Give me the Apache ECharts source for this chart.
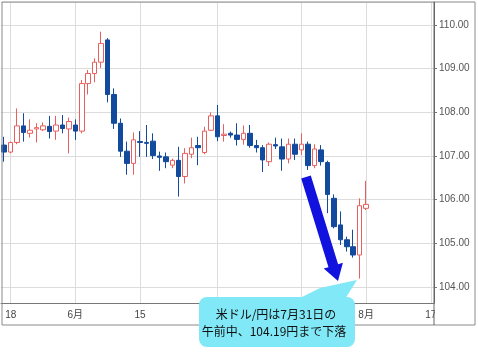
<!DOCTYPE html>
<html>
<head>
<meta charset="utf-8">
<script src="https://cdn.jsdelivr.net/npm/echarts@6/dist/echarts.min.js"></script>
<style>
  html, body { margin: 0; padding: 0; background: #fff; }
  #chart { width: 478px; height: 352px; }
</style>
</head>
<body>
<div id="chart"></div>
<script>
// trading days, 2020/5/15 - 8/3
const dates = [
  '5/15', '5/18', '5/19', '5/20', '5/21', '5/22', '5/25', '5/26', '5/27', '5/28', '5/29',
  '6/1', '6/2', '6/3', '6/4', '6/5', '6/8', '6/9', '6/10', '6/11', '6/12',
  '6/15', '6/16', '6/17', '6/18', '6/19', '6/22', '6/23', '6/24', '6/25', '6/26', '6/29', '6/30',
  '7/1', '7/2', '7/3', '7/6', '7/7', '7/8', '7/9', '7/10', '7/13', '7/14', '7/15', '7/16', '7/17',
  '7/20', '7/21', '7/22', '7/23', '7/24', '7/27', '7/28', '7/29', '7/30', '7/31',
  '8/3'
];
// empty days to the right edge
const futureDates = ['8/4', '8/5', '8/6', '8/7', '8/10', '8/11', '8/12', '8/13', '8/14', '8/17'];

const opens = [
  107.25, 107.09, 107.31, 107.69, 107.52, 107.62, 107.60, 107.68, 107.57, 107.71, 107.62,
  107.71, 107.57, 108.66, 108.89, 109.15, 109.66, 108.41, 107.75, 107.11, 106.83,
  107.33, 107.31, 107.34, 107.00, 106.98, 106.79, 106.90, 106.53, 107.04, 107.24, 107.08, 107.59,
  107.92, 107.47, 107.52, 107.48, 107.38, 107.52, 107.24, 107.19, 106.87, 107.26, 107.21, 106.93, 107.27,
  107.14, 107.27, 106.78, 107.14, 106.85, 106.03, 105.42, 105.08, 104.92, 104.73,
  105.80
];
const closes = [
  107.09, 107.31, 107.69, 107.54, 107.59, 107.65, 107.69, 107.56, 107.71, 107.63, 107.79,
  107.57, 108.66, 108.89, 109.15, 109.58, 108.41, 107.75, 107.11, 106.83, 107.37,
  107.31, 107.29, 107.01, 106.97, 106.87, 106.90, 106.53, 107.06, 107.19, 107.19, 107.57, 107.92,
  107.44, 107.50, 107.48, 107.38, 107.52, 107.24, 107.19, 106.91, 107.27, 107.23, 106.93, 107.27, 107.04,
  107.27, 106.78, 107.16, 106.87, 106.12, 105.38, 105.08, 104.92, 104.73, 105.86,
  105.89
];
const lows = [
  106.87, 107.06, 107.27, 107.33, 107.42, 107.31, 107.57, 107.40, 107.37, 107.52, 107.06,
  107.37, 107.52, 108.41, 108.69, 109.02, 108.23, 107.62, 106.98, 106.57, 106.57,
  106.98, 106.98, 106.93, 106.66, 106.72, 106.72, 106.07, 106.37, 106.95, 106.79, 107.04, 107.57,
  107.34, 107.33, 107.42, 107.24, 107.26, 107.19, 107.08, 106.63, 106.77, 107.16, 106.66, 106.83, 106.91,
  107.02, 106.68, 106.72, 106.78, 105.69, 105.34, 104.96, 104.81, 104.67, 104.19,
  105.76
];
const highs = [
  107.44, 107.33, 108.09, 107.98, 107.84, 107.75, 107.77, 107.92, 107.92, 107.94, 107.88,
  107.84, 108.74, 108.97, 109.24, 109.85, 109.70, 108.55, 107.86, 107.33, 107.54,
  107.57, 107.71, 107.52, 107.10, 107.08, 106.94, 107.21, 107.18, 107.42, 107.44, 107.67, 108.00,
  108.17, 107.73, 107.56, 107.75, 107.70, 107.71, 107.37, 107.25, 107.31, 107.42, 107.40, 107.40, 107.40,
  107.52, 107.33, 107.27, 107.25, 106.89, 106.12, 105.73, 105.15, 105.31, 106.03,
  106.43
];

const tickDates = ['5/18', '6/1', '6/15', '7/1', '7/20', '8/3', '8/17'];
const tickLabels = ['18', '6月', '15', '7月', '20', '8月', '17'];

const calloutLines = ['米ドル/円は7月31日の', '午前中、104.19円まで下落'];

const candles = dates.map((d, i) => [opens[i], closes[i], lows[i], highs[i]]);
const isTick = (index, value) => tickDates.indexOf(value) >= 0;

const myChart = echarts.init(document.getElementById('chart'));
const option = {
  animation: false,
  grid: { left: 1, right: 44, top: 2, bottom: 49 },
  xAxis: {
    type: 'category',
    data: dates.concat(futureDates),
    boundaryGap: true,
    axisLine: { lineStyle: { color: '#777' } },
    axisTick: { interval: isTick, alignWithLabel: true, length: 3, lineStyle: { color: '#999' } },
    axisLabel: {
      interval: isTick,
      formatter: v => tickLabels[tickDates.indexOf(v)],
      color: '#444',
      fontSize: 10,
      margin: 7,
      fontFamily: 'Liberation Sans, Noto Sans CJK JP'
    },
    splitLine: { show: true, interval: isTick, alignWithLabel: true, lineStyle: { color: '#dcdcdc' } }
  },
  yAxis: {
    type: 'value',
    position: 'right',
    min: 103.63,
    max: 110.53,
    splitNumber: 7,
    scale: true,
    axisLine: { show: true, lineStyle: { color: '#666' } },
    axisTick: { show: true, length: 3, lineStyle: { color: '#777' } },
    axisLabel: {
      showMinLabel: false,
      showMaxLabel: false,
      formatter: v => v.toFixed(2),
      color: '#555',
      fontSize: 10,
      margin: 5,
      fontFamily: 'Liberation Sans'
    },
    splitLine: { lineStyle: { color: '#dcdcdc' } }
  },
  series: [{
    type: 'candlestick',
    data: candles,
    barWidth: 5,
    itemStyle: {
      color: '#ffffff',
      borderColor: '#e8605e',
      color0: '#124a9d',
      borderColor0: '#124a9d',
      borderWidth: 1
    }
  }],
  graphic: [
    // hide the part of "17" that runs under the price axis
    { type: 'rect', z: 50, shape: { x: 435, y: 305, width: 12, height: 19 }, style: { fill: '#fff' } },
    // outer frame
    { type: 'rect', z: 60, shape: { x: 2, y: 2, width: 473, height: 323 }, style: { fill: null, stroke: '#8a8a8a', lineWidth: 1 } },
    { type: 'line', z: 60, shape: { x1: 434, y1: 2, x2: 434, y2: 325 }, style: { stroke: '#666', lineWidth: 1 } },
    // arrow
    {
      type: 'polygon', z: 100,
      shape: { points: [[310.8, 175.5], [338.1, 264.2], [342.9, 262.8], [338, 281], [323.7, 268.6], [328.5, 267.2], [301.2, 178.5]] },
      style: { fill: '#1212de' }
    },
    // callout
    {
      type: 'polygon', z: 100,
      shape: { points: [[298, 299], [320, 288], [357, 280], [345, 299]] },
      style: { fill: '#80e8f6' }
    },
    {
      type: 'rect', z: 100,
      shape: { x: 199, y: 297, width: 156, height: 50, r: 8 },
      style: { fill: '#80e8f6' }
    },
    {
      type: 'text', z: 101, x: 276, y: 314,
      style: { text: calloutLines[0], fill: '#111', font: '12px "Noto Sans CJK JP"', textAlign: 'center', textVerticalAlign: 'middle' }
    },
    {
      type: 'text', z: 101, x: 274, y: 331,
      style: { text: calloutLines[1], fill: '#111', font: '12px "Noto Sans CJK JP"', textAlign: 'center', textVerticalAlign: 'middle' }
    }
  ]
};
option && myChart.setOption(option);
</script>
</body>
</html>
